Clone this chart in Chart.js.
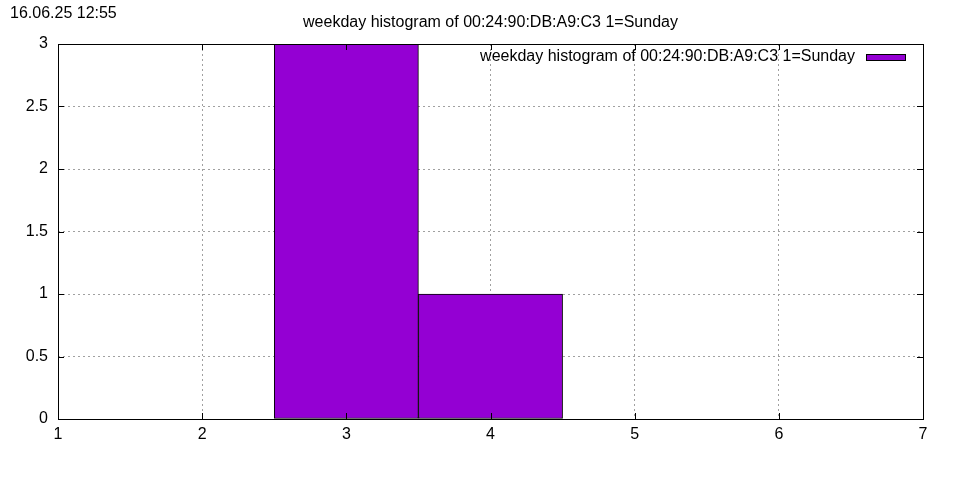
<!DOCTYPE html>
<html>
<head>
<meta charset="utf-8">
<script src="https://cdn.jsdelivr.net/npm/chart.js@4/dist/chart.umd.min.js"></script>
<style>
  html, body { margin: 0; padding: 0; background: #fff; }
  canvas { display: block; }
</style>
</head>
<body>
<canvas id="weekdayChart" width="960" height="480"></canvas>
<script>
// weekday histogram, 1=Sunday
const weekdays = [3, 4];
const counts = [3, 1];
const xTicks = [1, 2, 3, 4, 5, 6, 7];
const yTicks = [0, 0.5, 1, 1.5, 2, 2.5, 3];

const stamp = '16.06.25 12:55';
const titleText = 'weekday histogram of 00:24:90:DB:A9:C3 1=Sunday';
const barColor = '#9400d3';
const FONT = '"Liberation Sans", Arial, sans-serif';

// gnuplot-ish decorations: frame, inward ticks, title, legend
const gnuplotLook = {
    id: 'gnuplotLook',
    afterDatasetsDraw(chart) {
        const { ctx, chartArea: a, scales } = chart;
        ctx.save();
        ctx.strokeStyle = '#000';
        ctx.lineWidth = 1;
        ctx.beginPath();
        xTicks.forEach(v => {
            const px = Math.round(scales.x.getPixelForValue(v)) + 0.5;
            ctx.moveTo(px, a.bottom); ctx.lineTo(px, a.bottom - 6);
            ctx.moveTo(px, a.top); ctx.lineTo(px, a.top + 6);
        });
        yTicks.forEach(v => {
            const py = Math.round(scales.y.getPixelForValue(v)) + 0.5;
            ctx.moveTo(a.left, py); ctx.lineTo(a.left + 6, py);
            ctx.moveTo(a.right, py); ctx.lineTo(a.right - 6, py);
        });
        ctx.stroke();
        ctx.strokeRect(Math.round(a.left) + 0.5, Math.round(a.top) + 0.5,
            Math.round(a.right - a.left), Math.round(a.bottom - a.top));

        ctx.fillStyle = '#000';
        ctx.font = '16px ' + FONT;
        ctx.textBaseline = 'alphabetic';
        ctx.textAlign = 'left';
        ctx.fillText(stamp, 10, 18);
        ctx.textAlign = 'center';
        ctx.fillText(titleText, (a.left + a.right) / 2, 27);

        // legend entry, top right inside the plot
        const label = chart.data.datasets[0].label;
        ctx.textAlign = 'right';
        ctx.fillText(label, 855, 61);
        ctx.fillStyle = barColor;
        ctx.fillRect(866, 54, 39, 7);
        ctx.strokeRect(866.5, 54.5, 39, 6);
        ctx.restore();
    }
};

new Chart(document.getElementById('weekdayChart'), {
    type: 'bar',
    data: {
        datasets: [{
            label: titleText,
            data: weekdays.map((d, i) => ({ x: d, y: counts[i] })),
            backgroundColor: barColor,
            borderColor: '#000',
            borderWidth: 1,
            borderSkipped: false,
            barPercentage: 1,
            categoryPercentage: 1
        }]
    },
    options: {
        responsive: false,
        animation: false,
        layout: { padding: { top: 44, right: 37, left: 0, bottom: 0 } },
        plugins: { legend: { display: false }, tooltip: { enabled: false } },
        scales: {
            x: {
                type: 'linear',
                min: 1, max: 7,
                offset: false,
                afterFit: s => { s.height = 61; },
                afterBuildTicks: s => { s.ticks = xTicks.map(v => ({ value: v })); },
                grid: { offset: false, color: '#a0a0a0', drawTicks: false, tickLength: 0 },
                border: { display: false, dash: [2, 3] },
                ticks: { color: '#000', font: { family: FONT, size: 16 }, padding: 6, callback: v => String(v) }
            },
            y: {
                min: 0, max: 3,
                afterFit: s => { s.width = 58; },
                afterBuildTicks: s => { s.ticks = yTicks.map(v => ({ value: v })); },
                grid: { color: '#a0a0a0', drawTicks: false, tickLength: 0 },
                border: { display: false, dash: [2, 3] },
                ticks: { color: '#000', font: { family: FONT, size: 16 }, padding: 10, callback: v => String(v) }
            }
        }
    },
    plugins: [gnuplotLook]
});
</script>
</body>
</html>
